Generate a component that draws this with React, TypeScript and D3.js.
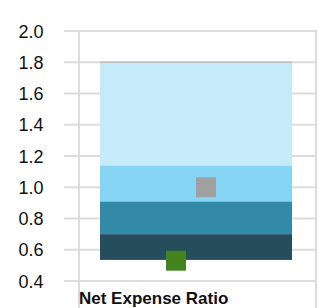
import React from "react";
import * as d3 from "d3";

const categories = ["Net Expense Ratio"];
const bandEdges = [0.535, 0.7, 0.91, 1.14, 1.8];
const bandColors = ["#264d5b", "#3289a8", "#86d5f4", "#c5eaf9"];
const markerNames = ["Fund", "Category"];
const markerValues = [0.53, 1.0];
const markerColors = ["#43841e", "#a0a0a0"];
const yTicks = [0.4, 0.6, 0.8, 1.0, 1.2, 1.4, 1.6, 1.8, 2.0];

const W = 319;
const H = 308;

export default function App() {
  const y = d3.scaleLinear().domain([0.4, 2.0]).range([281, 31]);
  const bx0 = 100;
  const bx1 = 292;
  const mx = d3.scalePoint().domain(markerNames).range([bx0 + 76, bx0 + 106]);
  const ms = 20;
  return (
    <svg width={W} height={H} style={{ position: "absolute", left: 0, top: 0, fontFamily: "Liberation Sans, Arial, sans-serif" }}>
      {yTicks.map((t) => (
        <g key={t}>
          <line x1={64} x2={316} y1={y(t)} y2={y(t)} stroke="#dcdcdc" strokeWidth={2} />
          <text x={43.5} y={y(t) + 6.5} textAnchor="end" fontSize={18} fill="#111">
            {t.toFixed(1)}
          </text>
        </g>
      ))}
      <line x1={79} x2={79} y1={y(2.0) - 1} y2={H} stroke="#dcdcdc" strokeWidth={2} />
      <line x1={316} x2={316} y1={y(2.0) - 1} y2={H} stroke="#dcdcdc" strokeWidth={2} />
      {bandColors.map((c, i) => (
        <rect
          key={c}
          x={bx0}
          width={bx1 - bx0}
          y={y(bandEdges[i + 1])}
          height={y(bandEdges[i]) - y(bandEdges[i + 1])}
          fill={c}
        />
      ))}
      <line x1={bx0} x2={bx1} y1={y(bandEdges[4])} y2={y(bandEdges[4])} stroke="#bdbdbd" strokeWidth={1.5} />
      {markerNames.map((n, i) => (
        <rect
          key={n}
          x={(mx(n) as number) - ms / 2}
          y={y(markerValues[i]) - ms / 2}
          width={ms}
          height={ms}
          fill={markerColors[i]}
        />
      ))}
      <text x={79} y={304} fontSize={17} fontWeight={700} fill="#111">
        {categories[0]}
      </text>
    </svg>
  );
}
